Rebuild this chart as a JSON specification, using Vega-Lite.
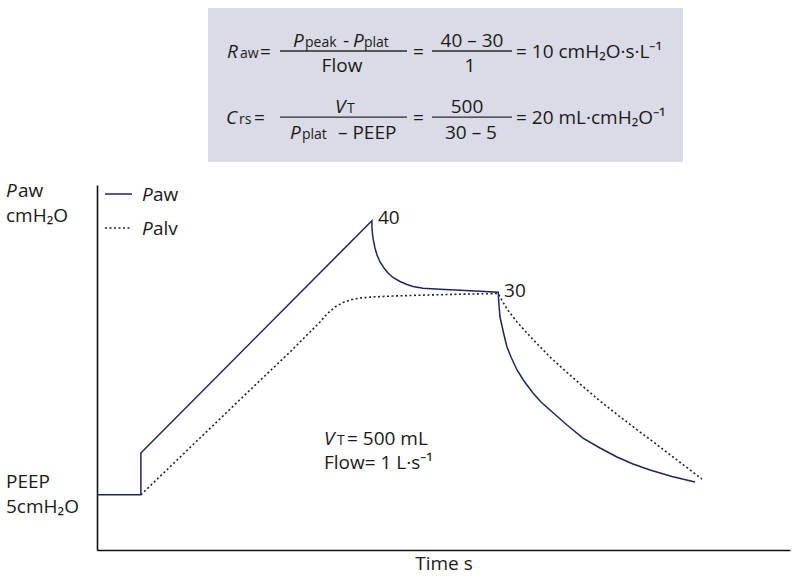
{
  "$schema": "https://vega.github.io/schema/vega-lite/v6.json",
  "width": 693,
  "height": 365,
  "autosize": {"type": "none"},
  "padding": {"left": 97, "top": 185, "right": 11, "bottom": 31},
  "background": "white",
  "config": {
    "view": {"stroke": null},
    "font": "Open Sans",
    "text": {"font": "Open Sans", "color": "#1a1a1a"}
  },
  "datasets": {
    "curves": [
      {"s": "Paw", "i": 0, "t": 0, "p": 5},
      {"s": "Paw", "i": 1, "t": 0.095, "p": 5},
      {"s": "Paw", "i": 2, "t": 0.095, "p": 10.15},
      {"s": "Paw", "i": 3, "t": 0.595, "p": 38.75},
      {"s": "Paw", "i": 4, "t": 0.5952, "p": 37.85},
      {"s": "Paw", "i": 5, "t": 0.5965, "p": 36.99},
      {"s": "Paw", "i": 6, "t": 0.5981, "p": 36.38},
      {"s": "Paw", "i": 7, "t": 0.6017, "p": 35.39},
      {"s": "Paw", "i": 8, "t": 0.6061, "p": 34.53},
      {"s": "Paw", "i": 9, "t": 0.6126, "p": 33.67},
      {"s": "Paw", "i": 10, "t": 0.6212, "p": 32.93},
      {"s": "Paw", "i": 11, "t": 0.6299, "p": 32.31},
      {"s": "Paw", "i": 12, "t": 0.6407, "p": 31.76},
      {"s": "Paw", "i": 13, "t": 0.6558, "p": 31.27},
      {"s": "Paw", "i": 14, "t": 0.671, "p": 30.9},
      {"s": "Paw", "i": 15, "t": 0.684, "p": 30.65},
      {"s": "Paw", "i": 16, "t": 0.7056, "p": 30.44},
      {"s": "Paw", "i": 17, "t": 0.7424, "p": 30.31},
      {"s": "Paw", "i": 18, "t": 0.7857, "p": 30.19},
      {"s": "Paw", "i": 19, "t": 0.829, "p": 30.07},
      {"s": "Paw", "i": 20, "t": 0.8686, "p": 29.94},
      {"s": "Paw", "i": 21, "t": 0.8693, "p": 28.99},
      {"s": "Paw", "i": 22, "t": 0.8706, "p": 28.0},
      {"s": "Paw", "i": 23, "t": 0.8723, "p": 26.89},
      {"s": "Paw", "i": 24, "t": 0.8766, "p": 25.79},
      {"s": "Paw", "i": 25, "t": 0.881, "p": 24.68},
      {"s": "Paw", "i": 26, "t": 0.8874, "p": 23.2},
      {"s": "Paw", "i": 27, "t": 0.8961, "p": 21.97},
      {"s": "Paw", "i": 28, "t": 0.9091, "p": 20.37},
      {"s": "Paw", "i": 29, "t": 0.9242, "p": 19.01},
      {"s": "Paw", "i": 30, "t": 0.9437, "p": 17.53},
      {"s": "Paw", "i": 31, "t": 0.961, "p": 16.43},
      {"s": "Paw", "i": 32, "t": 0.9805, "p": 15.44},
      {"s": "Paw", "i": 33, "t": 1.0173, "p": 13.59},
      {"s": "Paw", "i": 34, "t": 1.0519, "p": 11.99},
      {"s": "Paw", "i": 35, "t": 1.0887, "p": 10.76},
      {"s": "Paw", "i": 36, "t": 1.1255, "p": 9.65},
      {"s": "Paw", "i": 37, "t": 1.1602, "p": 8.79},
      {"s": "Paw", "i": 38, "t": 1.197, "p": 8.05},
      {"s": "Paw", "i": 39, "t": 1.2446, "p": 7.25},
      {"s": "Paw", "i": 40, "t": 1.2944, "p": 6.57},
      {"s": "Palv", "i": 0, "t": 0.095, "p": 5.0},
      {"s": "Palv", "i": 1, "t": 0.2229, "p": 11.99},
      {"s": "Palv", "i": 2, "t": 0.3312, "p": 17.9},
      {"s": "Palv", "i": 3, "t": 0.4177, "p": 22.58},
      {"s": "Palv", "i": 4, "t": 0.461, "p": 25.05},
      {"s": "Palv", "i": 5, "t": 0.4827, "p": 26.28},
      {"s": "Palv", "i": 6, "t": 0.4978, "p": 27.26},
      {"s": "Palv", "i": 7, "t": 0.5152, "p": 28.13},
      {"s": "Palv", "i": 8, "t": 0.5325, "p": 28.68},
      {"s": "Palv", "i": 9, "t": 0.5519, "p": 29.05},
      {"s": "Palv", "i": 10, "t": 0.5693, "p": 29.23},
      {"s": "Palv", "i": 11, "t": 0.6017, "p": 29.38},
      {"s": "Palv", "i": 12, "t": 0.6407, "p": 29.48},
      {"s": "Palv", "i": 13, "t": 0.6991, "p": 29.58},
      {"s": "Palv", "i": 14, "t": 0.7857, "p": 29.7},
      {"s": "Palv", "i": 15, "t": 0.868, "p": 29.79},
      {"s": "Palv", "i": 16, "t": 0.8874, "p": 27.88},
      {"s": "Palv", "i": 17, "t": 0.9091, "p": 26.28},
      {"s": "Palv", "i": 18, "t": 0.9437, "p": 24.12},
      {"s": "Palv", "i": 19, "t": 0.9805, "p": 21.97},
      {"s": "Palv", "i": 20, "t": 1.0173, "p": 20.06},
      {"s": "Palv", "i": 21, "t": 1.0519, "p": 18.34},
      {"s": "Palv", "i": 22, "t": 1.0887, "p": 16.55},
      {"s": "Palv", "i": 23, "t": 1.1255, "p": 14.89},
      {"s": "Palv", "i": 24, "t": 1.1602, "p": 13.38},
      {"s": "Palv", "i": 25, "t": 1.197, "p": 11.81},
      {"s": "Palv", "i": 26, "t": 1.2338, "p": 10.22},
      {"s": "Palv", "i": 27, "t": 1.2684, "p": 8.72},
      {"s": "Palv", "i": 28, "t": 1.3095, "p": 6.94}
    ],
    "italic": [
      {"t": 0.0974, "p": 41.18, "text": "P"},
      {"t": 0.0974, "p": 36.99, "text": "P"},
      {"t": -0.197, "p": 41.67, "text": "P"},
      {"t": 0.4913, "p": 11.13, "text": "V"},
      {"t": 0.2814, "p": 58.79, "text": "R"},
      {"t": 0.4242, "p": 60.15, "text": "P"},
      {"t": 0.5541, "p": 60.15, "text": "P"},
      {"t": 0.2792, "p": 50.66, "text": "C"},
      {"t": 0.5152, "p": 52.02, "text": "V"},
      {"t": 0.4177, "p": 48.82, "text": "P"}
    ],
    "regular": [
      {"t": 0.1212, "p": 41.18, "text": "aw"},
      {"t": 0.1212, "p": 36.99, "text": "alv"},
      {"t": -0.171, "p": 41.67, "text": "aw"},
      {"t": -0.197, "p": 38.59, "text": "cmH₂O"},
      {"t": -0.197, "p": 5.83, "text": "PEEP"},
      {"t": -0.197, "p": 2.76, "text": "5cmH₂O"},
      {"t": 0.6082, "p": 38.35, "text": "40"},
      {"t": 0.881, "p": 29.36, "text": "30"},
      {"t": 0.5411, "p": 11.13, "text": "= 500 mL"},
      {"t": 0.4913, "p": 8.17, "text": "Flow= 1 L·s⁻¹"},
      {"t": 0.3528, "p": 58.79, "text": "="},
      {"t": 0.5325, "p": 60.15, "text": "-"},
      {"t": 0.684, "p": 58.79, "text": "="},
      {"t": 0.9069, "p": 58.79, "text": "= 10 cmH₂O·s·L⁻¹"},
      {"t": 0.3398, "p": 50.66, "text": "="},
      {"t": 0.5216, "p": 48.82, "text": "– PEEP"},
      {"t": 0.684, "p": 50.66, "text": "="},
      {"t": 0.9069, "p": 50.66, "text": "= 20 mL·cmH₂O⁻¹"}
    ],
    "sub": [
      {"t": 0.5195, "p": 11.13, "text": "T"},
      {"t": 0.3095, "p": 58.79, "text": "aw"},
      {"t": 0.4502, "p": 60.15, "text": "peak"},
      {"t": 0.5779, "p": 60.15, "text": "plat"},
      {"t": 0.3074, "p": 50.66, "text": "rs"},
      {"t": 0.5411, "p": 52.02, "text": "T"},
      {"t": 0.4437, "p": 48.82, "text": "plat"}
    ],
    "centered": [
      {"t": 0.5303, "p": 57.07, "text": "Flow"},
      {"t": 0.8117, "p": 60.15, "text": "40 – 30"},
      {"t": 0.8074, "p": 57.07, "text": "1"},
      {"t": 0.8009, "p": 52.02, "text": "500"},
      {"t": 0.8095, "p": 48.82, "text": "30 – 5"}
    ],
    "bars": [
      {"t": 0.3961, "t2": 0.671, "p": 59.65},
      {"t": 0.7251, "t2": 0.8983, "p": 59.65},
      {"t": 0.3961, "t2": 0.671, "p": 51.52},
      {"t": 0.7251, "t2": 0.8983, "p": 51.52}
    ]
  },
  "encoding": {
    "x": {
      "field": "t", "type": "quantitative",
      "scale": {"domain": [0, 1.5], "nice": false, "zero": false},
      "axis": {
        "title": "Time s", "labels": false, "ticks": false, "grid": false,
        "domainColor": "#111", "domainWidth": 1.6,
        "titleFont": "Open Sans", "titleFontSize": 19, "titleFontWeight": "normal",
        "titleColor": "#1a1a1a", "titlePadding": 4
      }
    },
    "y": {
      "field": "p", "type": "quantitative",
      "scale": {"domain": [-1.8, 43.15], "nice": false, "zero": false},
      "axis": {
        "title": null, "labels": false, "ticks": false, "grid": false,
        "domainColor": "#111", "domainWidth": 1.6
      }
    }
  },
  "layer": [
    {
      "data": {"values": [{"t": 0.2403, "t2": 1.2684, "p": 45.98, "p2": 64.95}]},
      "mark": {"type": "rect", "color": "#dadbe6", "clip": false},
      "encoding": {"x2": {"field": "t2"}, "y2": {"field": "p2"}}
    },
    {
      "data": {"name": "bars"},
      "mark": {"type": "rule", "color": "#2a2a2a", "strokeWidth": 1.3, "clip": false},
      "encoding": {"x2": {"field": "t2"}}
    },
    {
      "data": {"values": [{"t": 0.0173, "t2": 0.0758, "p": 42.04}]},
      "mark": {"type": "rule", "color": "#1b2660", "strokeWidth": 1.5, "clip": false},
      "encoding": {"x2": {"field": "t2"}}
    },
    {
      "data": {"values": [{"t": 0.0173, "t2": 0.0758, "p": 37.85}]},
      "mark": {"type": "rule", "color": "#222222", "strokeWidth": 1.6, "strokeDash": [2, 2.5], "clip": false},
      "encoding": {"x2": {"field": "t2"}}
    },
    {
      "data": {"name": "curves"},
      "transform": [{"filter": "datum.s === 'Palv'"}],
      "mark": {"type": "line", "color": "#222222", "strokeWidth": 1.6, "strokeDash": [2, 2.5], "clip": false},
      "encoding": {"order": {"field": "i", "type": "quantitative"}}
    },
    {
      "data": {"name": "curves"},
      "transform": [{"filter": "datum.s === 'Paw'"}],
      "mark": {"type": "line", "color": "#1b2660", "strokeWidth": 1.5, "clip": false},
      "encoding": {"order": {"field": "i", "type": "quantitative"}}
    },
    {
      "data": {"name": "italic"},
      "mark": {"type": "text", "align": "left", "baseline": "alphabetic", "fontSize": 19, "fontStyle": "italic", "clip": false},
      "encoding": {"text": {"field": "text"}}
    },
    {
      "data": {"name": "regular"},
      "mark": {"type": "text", "align": "left", "baseline": "alphabetic", "fontSize": 19, "clip": false},
      "encoding": {"text": {"field": "text"}}
    },
    {
      "data": {"name": "sub"},
      "mark": {"type": "text", "align": "left", "baseline": "alphabetic", "fontSize": 14, "clip": false},
      "encoding": {"text": {"field": "text"}}
    },
    {
      "data": {"name": "centered"},
      "mark": {"type": "text", "align": "center", "baseline": "alphabetic", "fontSize": 19, "clip": false},
      "encoding": {"text": {"field": "text"}}
    }
  ]
}
